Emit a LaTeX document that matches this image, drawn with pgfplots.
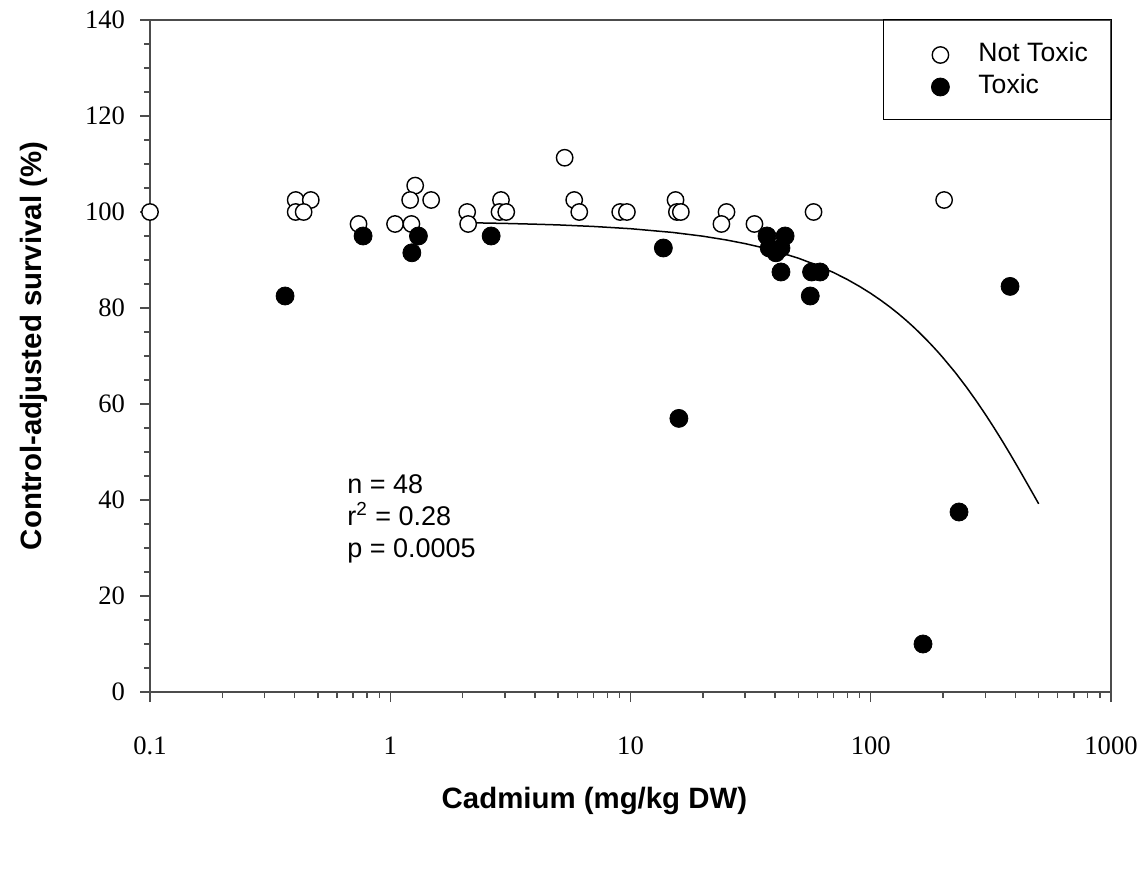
\documentclass[border=0pt]{standalone}
\usepackage{pgfplots}
\pgfplotsset{compat=1.18}
\usepackage{fontspec}
\setmainfont{Liberation Sans}
\newfontfamily\serif{Liberation Serif}
\begin{document}
\begin{tikzpicture}
\useasboundingbox (-75pt,-95pt) rectangle (496.5pt,346pt);
\begin{axis}[
  at={(0,0)}, anchor=south west,
  scale only axis, width=480.5pt, height=336pt,
  xmode=log, xmin=0.1, xmax=1000,
  ymin=0, ymax=140,
  ytick={0,20,...,140}, minor y tick num=3,
  xtick={0.1,1,10,100,1000},
  xticklabels={0.1,1,10,100,1000},
  log ticks with fixed point,
  tick pos=left, tick align=outside,
  major tick length=5pt, minor tick length=3pt,
  axis line style={draw=black!70, line width=0.9pt},
  every tick/.style={draw=black!70, line width=0.7pt},
  /pgf/number format/assume math mode=true,
  ticklabel style={font=\fontsize{13.3}{16}\selectfont\serif},
  xticklabel style={anchor=center, yshift=-22pt},
  yticklabel style={anchor=east, xshift=-4pt},
  xlabel={Cadmium (mg/kg DW)},
  ylabel={Control-adjusted survival (\%)},
  label style={font=\fontsize{14.7}{17}\selectfont\bfseries},
  xlabel style={at={(axis description cs:0.4625,-0.162)}, anchor=center},
  ylabel style={at={(axis description cs:-0.1208,0.515)}, anchor=center, rotate=0},
  clip=false,
  legend image code/.code={\draw[#1] plot coordinates {(0pt,0pt)};},
  legend style={draw=none, fill=none, inner sep=0pt,
    at={(axis description cs:0.8127,0.9241)}, anchor=west,
    font=\fontsize{13.3}{16}\selectfont,
    nodes={inner sep=0pt, text height=9.5pt, text depth=2.5pt},
    row sep=4pt, column sep=14.5pt},
  legend cell align=left,
]
\addplot[black, line width=0.75pt, forget plot] coordinates {
(2.2,97.75)(3,97.62)(4,97.46)(5,97.31)(7,96.99)(10,96.52)(15,95.74)(20,94.96)(25,94.18)(30,93.41)(35,92.64)(40,91.88)(50,90.37)(60,88.87)(70,87.39)(80,85.92)(90,84.47)(100,83.04)(110,81.62)(120,80.23)(130,78.85)(140,77.48)(150,76.13)(160,74.79)(170,73.47)(180,72.17)(190,70.89)(200,69.62)(225,66.54)(250,63.53)(275,60.63)(300,57.84)(325,55.15)(350,52.57)(375,50.09)(400,47.70)(425,45.42)(450,43.24)(475,41.17)(500,39.2)};
\addplot[only marks, mark=*, mark size=4.1pt, mark options={fill=white, draw=black, line width=0.7pt}] coordinates {
(0.1,100)(0.404,102.5)(0.467,102.5)(0.404,100)(0.436,100)(0.738,97.5)(1.047,97.5)(1.225,97.5)(1.27,105.5)(1.21,102.5)(1.48,102.5)(2.09,100)(2.11,97.5)(2.89,102.5)(2.85,100)(3.04,100)(5.32,111.3)(5.83,102.5)(6.12,100)(9.06,100)(9.66,100)(15.4,102.5)(15.6,100)(16.2,100)(25.1,100)(23.9,97.5)(32.8,97.5)(57.8,100)(202,102.5)};
\addlegendentry{Not Toxic}
\addplot[only marks, mark=*, mark size=4.5pt, mark options={fill=black, draw=black}] coordinates {
(0.365,82.5)(0.771,95)(1.31,95)(1.23,91.5)(2.63,95)(13.7,92.5)(15.9,57)(37.0,95)(44.0,95)(37.8,92.5)(42.3,92.5)(40.3,91.5)(42.3,87.5)(56.7,87.5)(61.5,87.5)(56.0,82.5)(380,84.5)(233,37.5)(165,10)};
\addlegendentry{Toxic}
\draw[black, line width=0.5pt] (axis description cs:0.7628,1) rectangle (axis description cs:1,0.8512);
\node[anchor=west, align=left, font=\fontsize{13.5}{16}\selectfont, inner sep=0pt] at (axis description cs:0.205,0.2574) {n = 48\\r\textsuperscript{2} = 0.28\\p = 0.0005};
\end{axis}
\end{tikzpicture}
\end{document}
